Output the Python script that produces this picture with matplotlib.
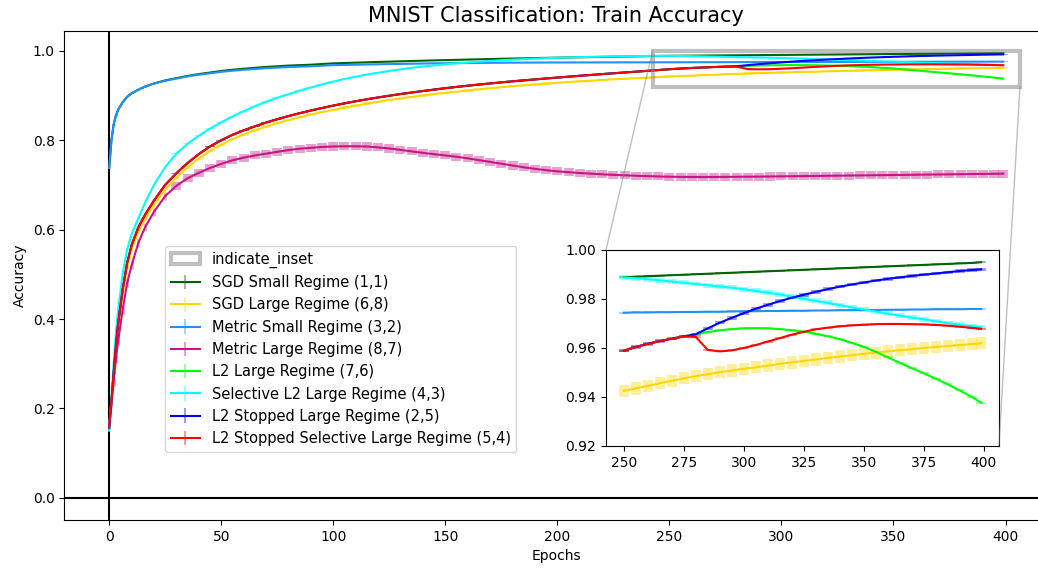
import numpy as np
import matplotlib
matplotlib.use('Agg')
import matplotlib.pyplot as plt
from matplotlib.colors import to_rgba
from matplotlib.patches import Rectangle, Patch, ConnectionPatch
from matplotlib.container import ErrorbarContainer
from matplotlib.legend_handler import HandlerErrorbar
from matplotlib.collections import LineCollection
from matplotlib.ticker import MultipleLocator

# ----------------------------------------------------------------------------
# data
# ----------------------------------------------------------------------------
epochs = [0, 1, 2, 3, 4, 6, 8, 10, 13, 16, 20, 25] + list(range(30, 400, 5)) + [399]

sgd_small = [0.738, 0.800, 0.835, 0.855, 0.868, 0.885, 0.897, 0.905, 0.913, 0.920, 0.927, 0.934,
             0.939, 0.944, 0.948, 0.9515, 0.955, 0.9577, 0.960, 0.962, 0.964, 0.9655,
             0.967, 0.968, 0.969, 0.9705, 0.972, 0.9728, 0.9736, 0.9744, 0.9752, 0.9759,
             0.9766, 0.9773, 0.9780, 0.9787, 0.9793, 0.9799, 0.9805, 0.9811, 0.9817, 0.9823,
             0.9828, 0.9833, 0.9838, 0.9843, 0.9848, 0.9853, 0.9857, 0.9861, 0.9865, 0.9869,
             0.9873, 0.9877, 0.9881, 0.9885, 0.9889, 0.9891, 0.9893, 0.9895, 0.9897, 0.9899,
             0.9901, 0.9903, 0.9905, 0.9907, 0.9909, 0.9911, 0.9913, 0.9915, 0.9917, 0.9919,
             0.9921, 0.9923, 0.9925, 0.9927, 0.9929, 0.9931, 0.9933, 0.9935, 0.9937, 0.9939,
             0.9941, 0.9943, 0.9945, 0.9947, 0.9950]

sgd_large = [0.160, 0.210, 0.270, 0.330, 0.380, 0.455, 0.515, 0.555, 0.595, 0.623, 0.655, 0.690,
             0.716, 0.739, 0.759, 0.776, 0.790, 0.802, 0.813, 0.822, 0.8305, 0.838,
             0.845, 0.8515, 0.8575, 0.863, 0.868, 0.873, 0.8775, 0.882, 0.886, 0.890,
             0.8935, 0.897, 0.900, 0.903, 0.906, 0.9087, 0.9113, 0.9138, 0.9162, 0.9185,
             0.9207, 0.9228, 0.9248, 0.9267, 0.9285, 0.9302, 0.9318, 0.9333, 0.9348, 0.9362,
             0.9375, 0.9388, 0.9401, 0.9413, 0.9425, 0.9435, 0.9445, 0.9456, 0.9466, 0.9476,
             0.9485, 0.9493, 0.9501, 0.9508, 0.9515, 0.9521, 0.9528, 0.9535, 0.9541, 0.9547,
             0.9553, 0.9559, 0.9565, 0.9570, 0.9576, 0.9581, 0.9586, 0.9591, 0.9595, 0.9600,
             0.9604, 0.9608, 0.9612, 0.9616, 0.9619]

metric_small = [0.738, 0.800, 0.835, 0.855, 0.868, 0.885, 0.897, 0.905, 0.913, 0.920, 0.927, 0.933,
                0.938, 0.9428, 0.9466, 0.9498, 0.953, 0.9555, 0.9576, 0.9594, 0.9612, 0.9625,
                0.9638, 0.9646, 0.9654, 0.9667, 0.9680, 0.9685, 0.9690, 0.9695, 0.9700, 0.9704,
                0.9708, 0.9712, 0.9716, 0.9720, 0.9723, 0.9726, 0.9728, 0.9730, 0.9732, 0.9734,
                0.9736, 0.9737, 0.9738, 0.9739, 0.9740, 0.9740, 0.9741, 0.9741, 0.9742, 0.9742,
                0.9743, 0.9743, 0.9743, 0.9744, 0.9744, 0.9745, 0.9745, 0.9746, 0.9746, 0.9747,
                0.9747, 0.9748, 0.9748, 0.9749, 0.9750, 0.9750, 0.9751, 0.9751, 0.9752, 0.9752,
                0.9753, 0.9753, 0.9754, 0.9754, 0.9755, 0.9755, 0.9756, 0.9756, 0.9757, 0.9757,
                0.9758, 0.9758, 0.9758, 0.9759, 0.9759]

metric_large = [0.170, 0.210, 0.260, 0.310, 0.350, 0.420, 0.480, 0.520, 0.570, 0.605, 0.640, 0.675,
                0.698, 0.715, 0.727, 0.738, 0.747, 0.755, 0.761, 0.766, 0.770, 0.774,
                0.778, 0.781, 0.783, 0.785, 0.786, 0.7865, 0.7865, 0.786, 0.784, 0.7815,
                0.7785, 0.775, 0.7718, 0.7688, 0.766, 0.763, 0.7595, 0.7555, 0.7515, 0.7475,
                0.7435, 0.7395, 0.736, 0.733, 0.7305, 0.7285, 0.7267, 0.7252, 0.7238, 0.7226,
                0.7215, 0.7205, 0.7197, 0.7190, 0.7184, 0.7180, 0.7178, 0.7177, 0.7178, 0.7180,
                0.7182, 0.7184, 0.7186, 0.7189, 0.7192, 0.7195, 0.7198, 0.7201, 0.7204, 0.7207,
                0.7210, 0.7213, 0.7216, 0.7219, 0.7222, 0.7225, 0.7228, 0.7231, 0.7234, 0.7237,
                0.7240, 0.7243, 0.7246, 0.7249, 0.7252]

# the three L2 runs are identical until epoch 275
l2_common = [0.157, 0.215, 0.280, 0.340, 0.390, 0.465, 0.525, 0.565, 0.605, 0.633, 0.665, 0.700,
             0.726, 0.749, 0.769, 0.786, 0.800, 0.812, 0.822, 0.831, 0.8395, 0.847,
             0.854, 0.8605, 0.8665, 0.872, 0.8775, 0.8825, 0.8872, 0.8916, 0.8957, 0.8996,
             0.9033, 0.9068, 0.9101, 0.9133, 0.9165, 0.9193, 0.9220, 0.9246, 0.9271, 0.9295,
             0.9318, 0.9340, 0.9361, 0.9382, 0.9402, 0.9422, 0.9442, 0.9461, 0.9480, 0.9498,
             0.9516, 0.9534, 0.9552, 0.9570, 0.9589, 0.9604, 0.9617, 0.9628, 0.9638, 0.9647]

l2_large = l2_common + [0.9656, 0.9665, 0.9672, 0.9677, 0.9680, 0.9681, 0.9680, 0.9677, 0.9672, 0.9667,
                        0.9658, 0.9648, 0.9636, 0.9621, 0.9605, 0.9585, 0.9562, 0.9540, 0.9518, 0.9497,
                        0.9475, 0.9452, 0.9427, 0.9401, 0.9377]

l2_stopped = l2_common + [0.9656, 0.9680, 0.9703, 0.9723, 0.9742, 0.9760, 0.9776, 0.9791, 0.9805, 0.9817,
                          0.9829, 0.9840, 0.9850, 0.9859, 0.9867, 0.9875, 0.9882, 0.9888, 0.9894, 0.9899,
                          0.9904, 0.9909, 0.9914, 0.9918, 0.9921]

l2_stopped_sel = l2_common + [0.9645, 0.9592, 0.9586, 0.9590, 0.9600, 0.9612, 0.9626, 0.9640, 0.9654, 0.9666,
                              0.9676, 0.9683, 0.9688, 0.9692, 0.9695, 0.9697, 0.9698, 0.9698, 0.9697, 0.9696,
                              0.9694, 0.9691, 0.9687, 0.9682, 0.9678]

sel_l2_large = [0.150, 0.220, 0.300, 0.370, 0.420, 0.500, 0.555, 0.590, 0.625, 0.660, 0.700, 0.740,
                0.770, 0.792, 0.810, 0.826, 0.840, 0.853, 0.865, 0.876, 0.886, 0.895,
                0.903, 0.911, 0.918, 0.925, 0.931, 0.937, 0.942, 0.947, 0.951, 0.955,
                0.9585, 0.962, 0.965, 0.9675, 0.970, 0.972, 0.974, 0.9758, 0.9775, 0.9790,
                0.9803, 0.9815, 0.9826, 0.9836, 0.9845, 0.9853, 0.9860, 0.9866, 0.9871, 0.9876,
                0.9880, 0.9883, 0.9886, 0.9888, 0.9888, 0.9885, 0.9881, 0.9876, 0.9871, 0.9866,
                0.9861, 0.9856, 0.9851, 0.9846, 0.9840, 0.9833, 0.9826, 0.9818, 0.9810, 0.9801,
                0.9792, 0.9784, 0.9775, 0.9766, 0.9757, 0.9749, 0.9740, 0.9732, 0.9724, 0.9717,
                0.9709, 0.9702, 0.9695, 0.9689, 0.9684]

# spread over the runs (one value per series)
errors = [0.0004, 0.0025, 0.0004, 0.009, 0.0004, 0.0010, 0.0007, 0.0004]

labels = ['SGD Small Regime (1,1)', 'SGD Large Regime (6,8)', 'Metric Small Regime (3,2)',
          'Metric Large Regime (8,7)', 'L2 Large Regime (7,6)', 'Selective L2 Large Regime (4,3)',
          'L2 Stopped Large Regime (2,5)', 'L2 Stopped Selective Large Regime (5,4)']
colors = ['darkgreen', 'gold', 'dodgerblue', 'mediumvioletred', 'lime', 'cyan', 'blue', 'red']
series = [sgd_small, sgd_large, metric_small, metric_large, l2_large, sel_l2_large,
          l2_stopped, l2_stopped_sel]

# ----------------------------------------------------------------------------
# figure
# ----------------------------------------------------------------------------
fig = plt.figure(figsize=(10.38, 5.69), dpi=100)
ax = fig.add_axes([0.0621, 0.0861, 0.9475, 0.860])

x = np.array(epochs)
late = x >= 30          # wide error ticks once the sampling is regular
containers = []
for y, e, c, lab in zip(series, errors, colors, labels):
    ecol = to_rgba(c, 0.4)
    ax.errorbar(x[~late], np.array(y)[~late], yerr=e, fmt='none', ecolor=ecol, elinewidth=2)
    cont = ax.errorbar(x, y, yerr=e, color=c, ecolor=ecol, errorevery=late,
                       elinewidth=7, linewidth=1.5, label=lab)
    containers.append(cont)

ax.axhline(0, color='k', linewidth=1.5)
ax.axvline(0, color='k', linewidth=1.5)

ax.set_title('MNIST Classification: Train Accuracy', fontsize=15)
ax.set_xlabel('Epochs')
ax.set_ylabel('Accuracy')

# inset zoom on the last epochs
axins = fig.add_axes([0.5838, 0.2162, 0.3786, 0.3445])
i0 = epochs.index(250)
for y, e, c in zip(series, errors, colors):
    axins.errorbar(x[i0:], y[i0:], yerr=e, color=c, ecolor=to_rgba(c, 0.4),
                   elinewidth=7, linewidth=1.5)
axins.set_ylim(0.92, 1.00)
axins.xaxis.set_major_locator(MultipleLocator(25))

x0, x1 = axins.get_xlim()
y0, y1 = axins.get_ylim()
gray = (0.5, 0.5, 0.5, 0.5)
rect = Rectangle((x0, y0), x1 - x0, y1 - y0, facecolor='none', edgecolor=gray,
                 linewidth=3, zorder=4.99)
ax.add_artist(rect)
for pa, pb in [((x0, y1), (0, 1)), ((x1, y0), (1, 0))]:
    con = ConnectionPatch(xyA=pa, coordsA=ax.transData, xyB=pb, coordsB=axins.transAxes,
                          color=gray, linewidth=1)
    fig.add_artist(con)

# legend with thin error ticks in the handles
def thin_bars(handle, orig):
    handle.update_from(orig)
    if isinstance(handle, LineCollection):
        handle.set_linewidth(1.5)

rect_proxy = Patch(facecolor='white', edgecolor=gray, linewidth=3, label='indicate_inset')
ax.legend(handles=[rect_proxy] + containers, loc='lower left', fontsize=10.5,
          bbox_to_anchor=(0.1022, 0.139), borderaxespad=0,
          handler_map={ErrorbarContainer: HandlerErrorbar(update_func=thin_bars)})

fig.savefig('out.png', dpi=100)
